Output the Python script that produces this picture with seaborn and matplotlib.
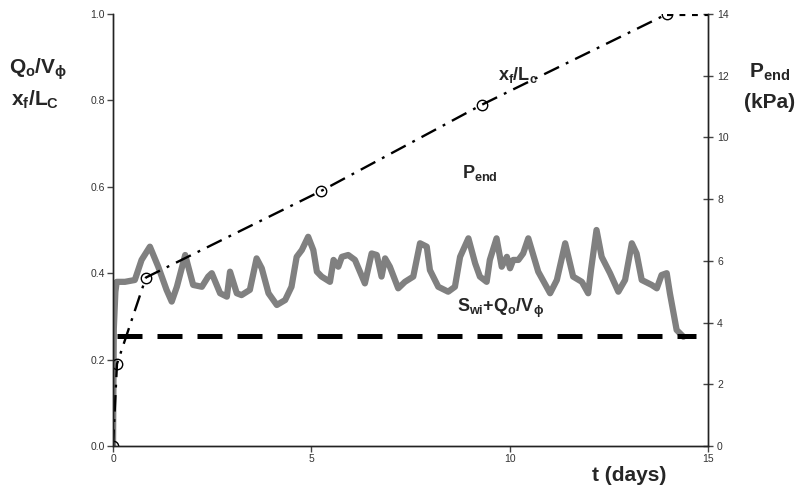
import matplotlib
matplotlib.use("Agg")
import matplotlib.pyplot as plt
import seaborn as sns
import pandas as pd

# ---- data ----
xf_t = [0.0, 0.10, 0.83, 5.24, 9.30, 13.97]
xf_y = [0.0, 0.19, 0.39, 0.59, 0.79, 1.00]
xf_tail_t = [13.97, 15.0]
xf_tail_y = [1.0, 1.0]

swi_t = [0.10, 14.70]
swi_y = [0.255, 0.255]

p_t = [0.0, 0.02, 0.06, 0.093, 0.30, 0.55, 0.72, 0.93, 1.14, 1.35, 1.48, 1.61,
       1.82, 2.02, 2.24, 2.40, 2.49, 2.70, 2.87, 2.95, 3.12, 3.24, 3.45, 3.62,
       3.75, 3.92, 4.13, 4.34, 4.50, 4.63, 4.76, 4.92, 5.05, 5.14, 5.26, 5.47,
       5.56, 5.68, 5.77, 5.93, 6.10, 6.35, 6.52, 6.65, 6.77, 6.86, 6.98, 7.19,
       7.36, 7.57, 7.74, 7.91, 7.99, 8.20, 8.45, 8.62, 8.75, 8.96, 9.13, 9.25,
       9.42, 9.50, 9.67, 9.80, 9.93, 10.01, 10.09, 10.22, 10.34, 10.47, 10.72,
       11.02, 11.19, 11.40, 11.60, 11.82, 11.98, 12.05, 12.19, 12.32, 12.53,
       12.74, 12.91, 13.08, 13.20, 13.33, 13.58, 13.71, 13.83, 13.96, 14.04,
       14.21, 14.38]
p_kpa = [0.0, 3.8, 5.0, 5.32, 5.32, 5.38, 6.03, 6.46, 5.81, 5.06, 4.68, 5.16,
         6.19, 5.22, 5.16, 5.49, 5.60, 4.95, 4.84, 5.65, 4.95, 4.89, 5.06, 6.08,
         5.76, 4.95, 4.57, 4.73, 5.16, 6.13, 6.35, 6.78, 6.35, 5.65, 5.49, 5.32,
         6.03, 5.81, 6.13, 6.19, 6.03, 5.27, 6.24, 6.19, 5.49, 6.08, 5.81, 5.11,
         5.32, 5.49, 6.57, 6.46, 5.70, 5.16, 5.00, 5.16, 6.13, 6.73, 5.92, 5.49,
         5.32, 6.03, 6.73, 5.81, 6.13, 5.76, 6.03, 6.03, 6.24, 6.73, 5.65,
         4.95, 5.38, 6.57, 5.49, 5.32, 4.95, 5.70, 7.00, 6.13, 5.60,
         5.00, 5.38, 6.57, 6.24, 5.38, 5.22, 5.11, 5.54, 5.60, 4.95,
         3.76, 3.54]

x_ticks = [0, 5, 10, 15]
y_ticks = [0.0, 0.2, 0.4, 0.6, 0.8, 1.0]
y2_ticks = [0, 2, 4, 6, 8, 10, 12, 14]

# ---- style ----
sns.set_style("white")
plt.rcParams['font.family'] = ['Liberation Sans', 'DejaVu Sans']
plt.rcParams['mathtext.fontset'] = 'custom'
plt.rcParams['mathtext.rm'] = 'Liberation Sans:bold'
plt.rcParams['mathtext.it'] = 'Liberation Sans:bold'
plt.rcParams['mathtext.bf'] = 'Liberation Sans:bold'

fig = plt.figure(figsize=(7.97, 4.86), dpi=100)
ax = fig.add_axes([0.1418, 0.0823, 0.7465, 0.8889])
ax2 = ax.twinx()

df_p = pd.DataFrame({"t": p_t, "P": p_kpa})
sns.lineplot(data=df_p, x="t", y="P", ax=ax2, color="#808080", lw=4.5,
             sort=False, estimator=None)

df_xf = pd.DataFrame({"t": xf_t, "y": xf_y})
sns.lineplot(data=df_xf, x="t", y="y", ax=ax, color="black", lw=1.7,
             estimator=None, sort=False)
ax.lines[-1].set_dashes((7, 3.2, 1.2, 3.2))
ax.plot(xf_t, xf_y, ls='none', marker='o', ms=7.5, mfc='none', mec='black', mew=1.0)
df_tail = pd.DataFrame({"t": xf_tail_t, "y": xf_tail_y})
sns.lineplot(data=df_tail, x="t", y="y", ax=ax, color="black", lw=3,
             estimator=None, sort=False)
ax.lines[-1].set_dashes((1.4, 1.6))

df_swi = pd.DataFrame({"t": swi_t, "y": swi_y})
sns.lineplot(data=df_swi, x="t", y="y", ax=ax, color="black", lw=3.6,
             estimator=None, sort=False)
ax.lines[-1].set_dashes((5, 3))

ax.set_zorder(ax2.get_zorder() + 1)
ax.patch.set_visible(False)

ax.set_xlim(0, 15)
ax.set_ylim(0, 1.0)
ax2.set_ylim(0, 14)
ax.set_xticks(x_ticks)
ax.set_xticklabels([str(v) for v in x_ticks])
ax.set_yticks(y_ticks)
ax.set_yticklabels([f"{v:.1f}" for v in y_ticks])
ax2.set_yticks(y2_ticks)
ax2.set_yticklabels([str(v) for v in y2_ticks])
ax.set_xlabel("")
ax.set_ylabel("")
ax2.set_ylabel("")

for a in (ax, ax2):
    a.spines['top'].set_visible(False)
    for s in a.spines.values():
        s.set_linewidth(1.0)
        s.set_color('#222222')
ax.tick_params(axis='both', direction='out', length=4, width=1, color='#444444',
               labelsize=7.5, labelcolor='#333333', pad=2, left=True, bottom=True)
ax2.tick_params(axis='y', direction='inout', length=7, width=1, color='#444444',
                labelsize=7.5, labelcolor='#333333', pad=3, right=True)

# ---- texts ----
fig.text(0.0110, 0.858, r"Q$_\mathrm{o}$/V$_\phi$", fontsize=15, fontweight='bold', ha='left', va='center')
fig.text(0.0140, 0.795, r"x$_\mathrm{f}$/L$_\mathrm{C}$", fontsize=15, fontweight='bold', ha='left', va='center')
fig.text(0.966, 0.852, r"P$_\mathrm{end}$", fontsize=15, fontweight='bold', ha='center', va='center')
fig.text(0.966, 0.790, "(kPa)", fontsize=15, fontweight='bold', ha='center', va='center')
fig.text(0.789, 0.022, "t (days)", fontsize=15, fontweight='bold', ha='center', va='center')

ax.text(9.70, 0.858, r"x$_\mathrm{f}$/L$_\mathrm{c}$", fontsize=13, fontweight='bold', ha='left', va='center')
ax.text(8.80, 0.633, r"P$_\mathrm{end}$", fontsize=13, fontweight='bold', ha='left', va='center')
ax.text(8.67, 0.318, r"S$_\mathrm{wi}$+Q$_\mathrm{o}$/V$_\phi$", fontsize=13, fontweight='bold', ha='left', va='center')

fig.savefig("out.png", dpi=100)
